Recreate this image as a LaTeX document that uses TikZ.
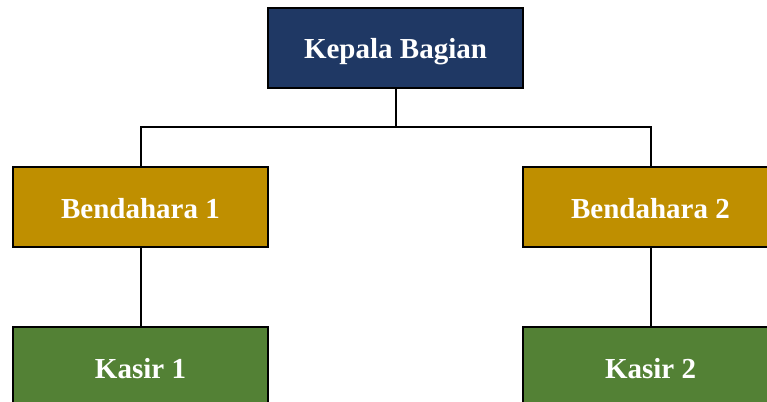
\documentclass[tikz,border=0pt]{standalone}
\usepackage{fontspec}
\setmainfont{Liberation Serif}
\usepackage{xcolor}
\definecolor{navy}{HTML}{1F3864}
\definecolor{emas}{HTML}{BF8F00}
\definecolor{hijau}{HTML}{538135}
\tikzset{jabatan/.style={draw=black,line width=2.2pt,minimum width=255pt,minimum height=80pt,
  text=white,font=\fontsize{29}{34}\selectfont\bfseries,inner sep=0pt,
  text height=22pt,text depth=0pt}}
\begin{document}
\begin{tikzpicture}[x=1pt,y=1pt,line width=2pt]
\useasboundingbox (0,0) rectangle (767,-401);
\node[jabatan,fill=navy] (kepala) at (395.5,-48) {Kepala Bagian};
\node[jabatan,fill=emas] (bend1) at (140.5,-207) {Bendahara 1};
\node[jabatan,fill=emas] (bend2) at (650.5,-207) {Bendahara 2};
\node[jabatan,fill=hijau] (kasir1) at (140.5,-367) {Kasir 1};
\node[jabatan,fill=hijau] (kasir2) at (650.5,-367) {Kasir 2};
\coordinate (bagi) at (395.5,-127);
\draw (kepala.south) -- (bagi);
\draw (bend1.north) |- (bagi) -| (bend2.north);
\draw (bend1.south) -- (kasir1.north);
\draw (bend2.south) -- (kasir2.north);
\end{tikzpicture}
\end{document}
